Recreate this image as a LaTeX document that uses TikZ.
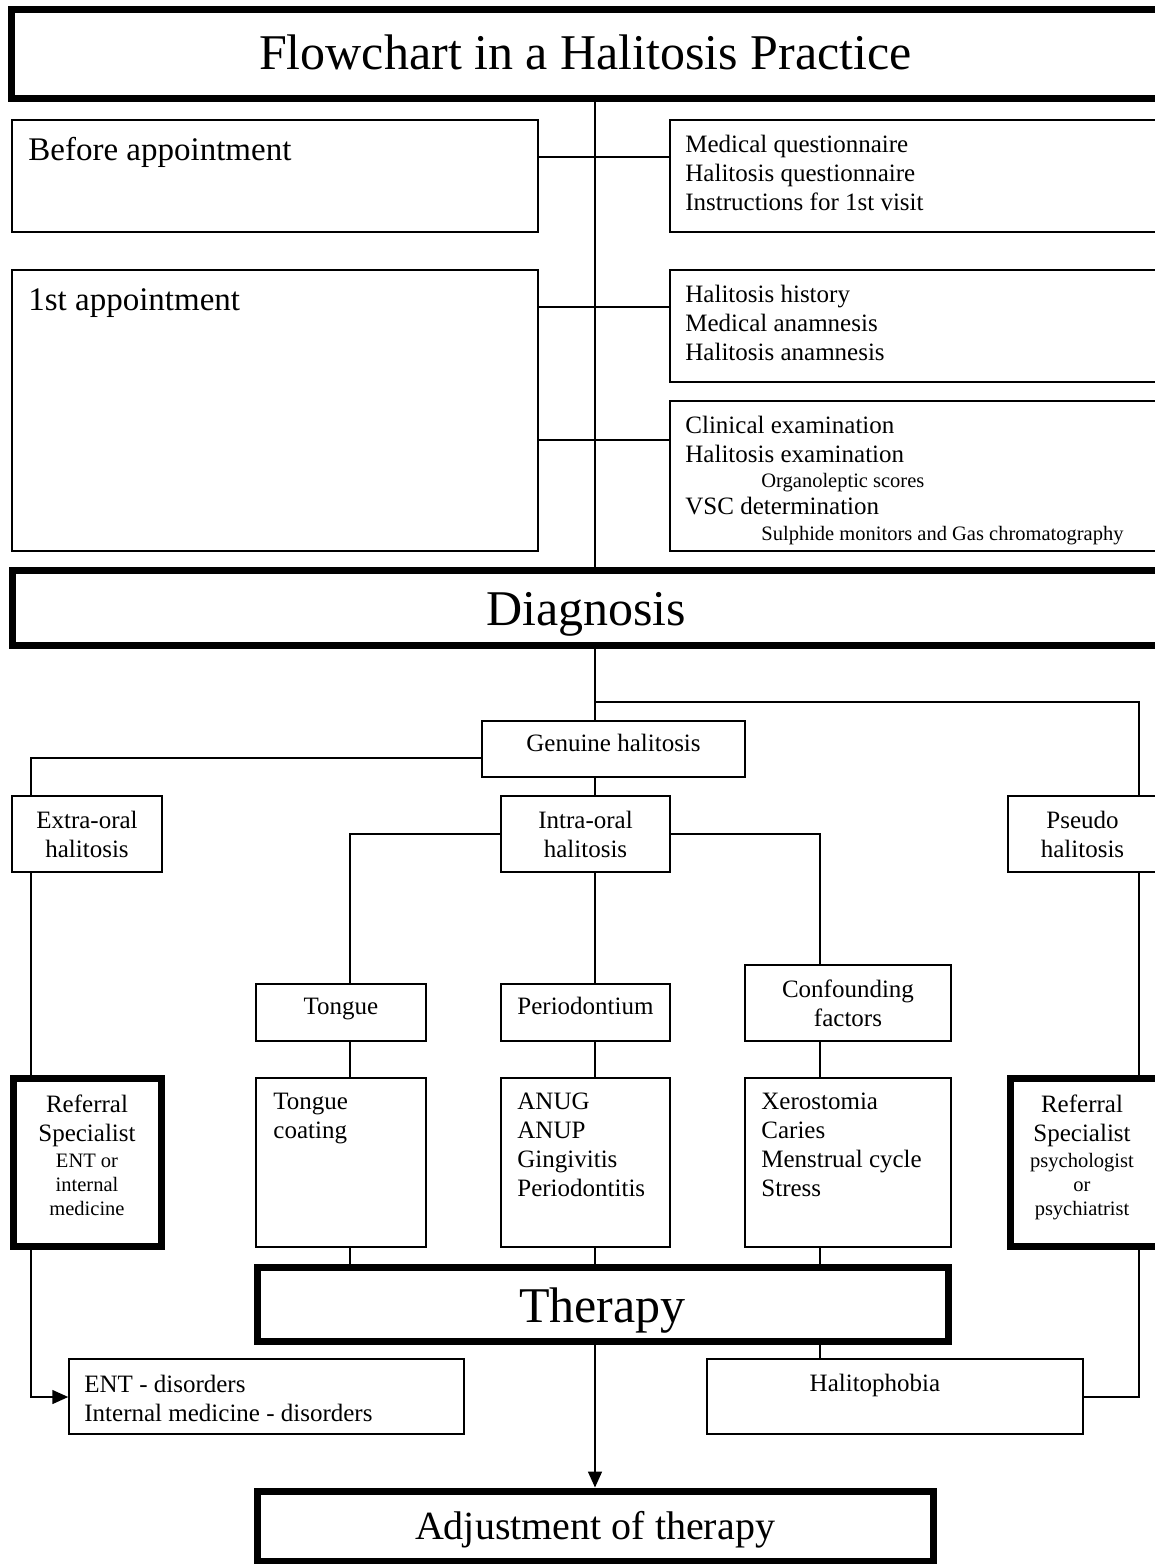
\documentclass[tikz,border=0pt]{standalone}
\usepackage{fontspec}
\setmainfont{Liberation Serif}
\usetikzlibrary{fit,arrows.meta}

\newcommand{\hugesize}{\fontsize{25}{30}\selectfont}
\newcommand{\adjsize}{\fontsize{20}{24}\selectfont}
\newcommand{\midsize}{\fontsize{16.5}{20}\selectfont}
\newcommand{\normsize}{\fontsize{12.5}{14.5}\selectfont}
\newcommand{\smallersize}{\fontsize{10.25}{12}\selectfont}

\tikzset{
  box/.style={draw, line width=0.75pt, inner sep=0pt},
  bigbox/.style={box, line width=3.5pt},
  lbl/.style={inner sep=0pt, align=center, font=\normsize},
  lblone/.style={lbl, text height=0.7em, text depth=0.5em},
  txt/.style={inner sep=0pt, align=left, anchor=north west, font=\normsize},
  link/.style={line width=0.75pt},
  arr/.style={link, -{Triangle[length=8pt,width=7pt]}},
}

\begin{document}
\begin{tikzpicture}[x=0.5pt, y=-0.5pt]
    \useasboundingbox (0,0) rectangle (1155,1564);
    \clip (0,0) rectangle (1155,1564);

    % Titel und Hauptstufen
    \node[bigbox, fit={(11,9) (1160,98)},
      label={[lbl, font=\hugesize, yshift=0.5pt]center:Flowchart in a Halitosis Practice}] (title) {};
    \node[bigbox, fit={(12,570) (1160,645)},
      label={[lbl, font=\hugesize, yshift=-3.25pt]center:Diagnosis}] (diag) {};
    \node[bigbox, fit={(257,1267) (948,1341)},
      label={[lbl, font=\hugesize, yshift=-3.25pt]center:Therapy}] (therapy) {};
    \node[bigbox, fit={(257,1491) (933,1561)},
      label={[lbl, font=\adjsize, yshift=-2pt]center:Adjustment of therapy}] (adjust) {};

    % Termine
    \node[box, fit={(12,120) (538,232)}] (before) {};
    \node[txt, font=\midsize] at (28,137) {Before appointment};
    \node[box, fit={(12,270) (538,551)}] (first) {};
    \node[txt, font=\midsize] at (28,288) {1st appointment};

    \node[box, fit={(670,120) (1160,232)}] (q1) {};
    \node[txt] at (685,135) {Medical questionnaire\\Halitosis questionnaire\\Instructions for 1st visit};
    \node[box, fit={(670,270) (1160,382)}] (q2) {};
    \node[txt] at (685,285) {Halitosis history\\Medical anamnesis\\Halitosis anamnesis};
    \node[box, fit={(670,401) (1160,551)}] (q3) {};
    \node[txt] at (685,416) {Clinical examination\\Halitosis examination\\[-2pt]
        \hspace*{38pt}{\smallersize Organoleptic scores}\\[-1pt]VSC determination\\[-1.5pt]
        \hspace*{38pt}{\smallersize Sulphide monitors and Gas chromatography}};

    % Diagnosen
    \node[box, fit={(482,721) (745,777)}, label={[lblone]center:Genuine halitosis}] (genuine) {};
    \node[box, fit={(12,796) (162,872)}, label={[lbl]center:{Extra-oral\\halitosis}}] (extra) {};
    \node[box, fit={(501,796) (670,872)}, label={[lbl]center:{Intra-oral\\halitosis}}] (intra) {};
    \node[box, fit={(1008,796) (1157,872)}, label={[lbl]center:{Pseudo\\halitosis}}] (pseudo) {};

    \node[box, fit={(256,984) (426,1041)}, label={[lblone]center:Tongue}] (tongue) {};
    \node[box, fit={(501,984) (670,1041)}, label={[lblone]center:Periodontium}] (perio) {};
    \node[box, fit={(745,965) (951,1041)}, label={[lbl]center:{Confounding\\factors}}] (conf) {};

    \node[box, fit={(256,1078) (426,1247)}] (coat) {};
    \node[txt] at (273,1093) {Tongue\\coating};
    \node[box, fit={(501,1078) (670,1247)}] (anug) {};
    \node[txt] at (517,1093) {ANUG\\ANUP\\Gingivitis\\Periodontitis};
    \node[box, fit={(745,1078) (951,1247)}] (xero) {};
    \node[txt] at (761,1093) {Xerostomia\\Caries\\Menstrual cycle\\Stress};

    % Ueberweisungen
    \node[bigbox, fit={(13,1078) (161,1246)}] (refl) {};
    \node[txt, anchor=north, align=center] at (87,1094) {Referral\\Specialist\\[-1.5pt]
        {\smallersize ENT or}\\[-2.5pt]{\smallersize internal}\\[-2.5pt]{\smallersize medicine}};
    \node[bigbox, fit={(1010,1078) (1160,1246)}] (refr) {};
    \node[txt, anchor=north, align=center] at (1082,1094) {Referral\\Specialist\\[-1.5pt]
        {\smallersize psychologist}\\[-2.5pt]{\smallersize or}\\[-2.5pt]{\smallersize psychiatrist}};

    % Ergebnisse
    \node[box, fit={(69,1359) (464,1434)}] (ent) {};
    \node[txt] at (84,1375) {ENT - disorders\\Internal medicine - disorders};
    \node[box, fit={(707,1359) (1083,1434)}] (phobia) {};
    \node[txt, anchor=base] at (875,1391) {Halitophobia};

    % Hilfskoordinaten
    \coordinate (mx) at (595,0);
    \coordinate (tx) at (350,0);
    \coordinate (cx) at (820,0);
    \coordinate (ex) at (31,0);
    \coordinate (px) at (1139,0);
    \coordinate (r1) at (0,157);
    \coordinate (r2) at (0,307);
    \coordinate (r3) at (0,440);
    \coordinate (rg) at (0,702);
    \coordinate (rl) at (0,758);
    \coordinate (ri) at (0,834);
    \coordinate (rb) at (0,1397);

    % Verbindungen
    \draw[link] (title.south -| mx) -- (diag.north -| mx);
    \draw[link] (before.east |- r1) -- (q1.west |- r1);
    \draw[link] (first.east |- r2) -- (q2.west |- r2);
    \draw[link] (first.east |- r3) -- (q3.west |- r3);
    \draw[link] (diag.south -| mx) -- (genuine.north -| mx);
    \draw[link] (mx |- rg) -| (pseudo.north -| px);
    \draw[link] (genuine.west |- rl) -| (extra.north -| ex);
    \draw[link] (genuine.south -| mx) -- (intra.north -| mx);
    \draw[link] (intra.west |- ri) -| (tongue.north -| tx);
    \draw[link] (intra.east |- ri) -| (conf.north -| cx);
    \draw[link] (intra.south -| mx) -- (perio.north -| mx);
    \draw[link] (tongue.south -| tx) -- (coat.north -| tx);
    \draw[link] (perio.south -| mx) -- (anug.north -| mx);
    \draw[link] (conf.south -| cx) -- (xero.north -| cx);
    \draw[link] (coat.south -| tx) -- (therapy.north -| tx);
    \draw[link] (anug.south -| mx) -- (therapy.north -| mx);
    \draw[link] (xero.south -| cx) -- (therapy.north -| cx);
    \draw[link] (extra.south -| ex) -- (refl.north -| ex);
    \draw[link] (pseudo.south -| px) -- (refr.north -| px);
    \draw[arr] (refl.south -| ex) |- (ent.west |- rb);
    \draw[link] (phobia.east |- rb) -| (refr.south -| px);
    \draw[link] (therapy.south -| cx) -- (phobia.north -| cx);
    \draw[arr] (therapy.south -| mx) -- (adjust.north -| mx);

  \end{tikzpicture}
\end{document}
